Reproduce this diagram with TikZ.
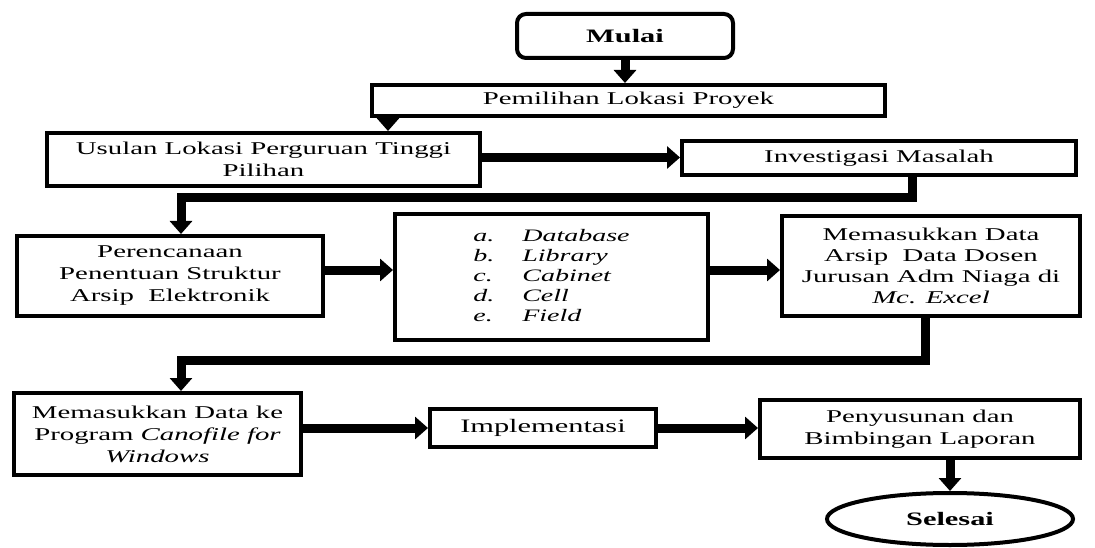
\documentclass[tikz,border=0pt]{standalone}
\usepackage{fontspec}
\setmainfont[FakeStretch=1.6]{Liberation Serif}
\usetikzlibrary{arrows.meta,shapes.geometric}
\begin{document}
\begin{tikzpicture}[x=1pt,y=-1pt,
  box/.style={draw, line width=4pt, align=center, inner sep=0pt, font=\fontsize{18}{22}\selectfont},
  arr/.style={line width=9pt, -{Triangle[length=13pt,width=22pt]}},
  conn/.style={line width=9pt, line join=miter}]
\useasboundingbox (0,0) rectangle (1095,548);

\node[box, rounded corners=9pt, minimum width=216pt, minimum height=44pt, font=\fontsize{19}{22}\selectfont\bfseries] (mulai) at (625,36) {Mulai};
\node[box, minimum width=513pt, minimum height=31pt] (pemilihan) at (628.5,100.5) {Pemilihan Lokasi Proyek};
\node[box, minimum width=433pt, minimum height=53pt] (usulan) at (263.5,159.5) {Usulan Lokasi Perguruan Tinggi\\Pilihan};
\node[box, minimum width=394pt, minimum height=34pt] (invest) at (879,158) {Investigasi Masalah};
\node[box, minimum width=306pt, minimum height=80pt] (renc) at (170,276) {Perencanaan\\Penentuan Struktur\\Arsip\ \ Elektronik};
\node[box, minimum width=313pt, minimum height=126pt, font=\fontsize{17.5}{21}\selectfont\itshape] (list) at (551.5,277) {%
  \begin{tabular}{@{}l@{\hspace{28pt}}l@{}}
  a. & Database\\[-1pt]
  b. & Library\\[-1pt]
  c. & Cabinet\\[-1pt]
  d. & Cell\\[-1pt]
  e. & Field
  \end{tabular}};
\node[box, minimum width=298pt, minimum height=100pt, font=\fontsize{18}{21}\selectfont] (memas) at (931,266) {Memasukkan Data\\Arsip\ \ Data Dosen\\Jurusan Adm Niaga di\\\textit{Mc. Excel}};
\node[box, minimum width=287pt, minimum height=82pt] (canof) at (157.5,434) {Memasukkan Data ke\\Program \textit{Canofile for}\\\textit{Windows}};
\node[box, minimum width=226pt, minimum height=38pt, font=\fontsize{19}{22}\selectfont] (impl) at (543,428) {Implementasi};
\node[box, minimum width=320pt, minimum height=58pt] (penyus) at (920,429) {Penyusunan dan\\Bimbingan Laporan};
\node[draw, line width=4pt, ellipse, minimum width=246pt, minimum height=52pt, inner sep=0pt, font=\fontsize{19}{22}\selectfont\bfseries] (selesai) at (950,519) {Selesai};

\draw[arr] (mulai.south) -- (mulai.south |- pemilihan.north);
\draw[arr] ([xshift=18pt]pemilihan.south west) -- ([xshift=18pt]pemilihan.south west |- usulan.north);
\draw[arr] ([yshift=2pt]usulan.east) -- ([yshift=2pt]usulan.east -| invest.west);
\draw[conn] ([xshift=33pt]invest.south) -- ++(0,21) -| ([xshift=11pt,yshift=12pt]renc.north);
\draw[arr] ([xshift=11pt,yshift=13pt]renc.north) -- ([xshift=11pt]renc.north);
\draw[arr] ([yshift=6pt]renc.east) -- ([yshift=6pt]renc.east -| list.west);
\draw[arr] ([yshift=7pt]list.east) -- ([yshift=7pt]list.east -| memas.west);
\draw[conn] ([xshift=-6pt]memas.south) -- ++(0,42) -| ([xshift=23.5pt,yshift=12pt]canof.north);
\draw[arr] ([xshift=23.5pt,yshift=13pt]canof.north) -- ([xshift=23.5pt]canof.north);
\draw[arr] ([yshift=6pt]canof.east) -- ([yshift=6pt]canof.east -| impl.west);
\draw[arr] (impl.east) -- (impl.east -| penyus.west);
\draw[arr] (selesai.north |- penyus.south) -- (selesai.north);
\end{tikzpicture}
\end{document}
